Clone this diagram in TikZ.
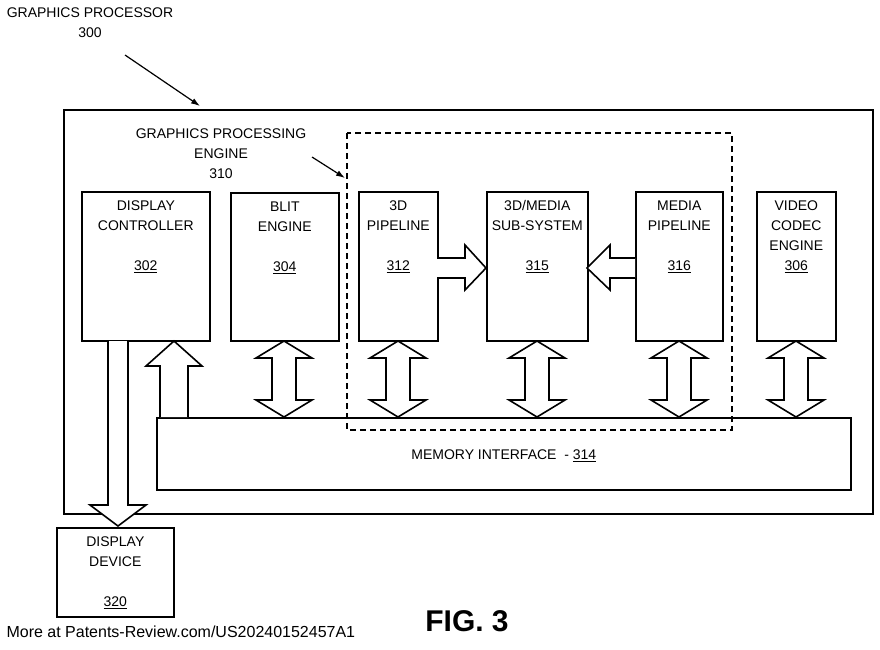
\documentclass[tikz,border=0pt]{standalone}
\usepackage{fontspec}
\setmainfont{Liberation Sans}
\usetikzlibrary{positioning,arrows.meta}

\tikzset{
    box/.style={draw,line width=1.6pt,fill=white,inner sep=0pt},
    lbl/.style={align=center,font=\fontsize{14}{20}\selectfont},
    blk/.style={draw,line width=1.6pt,fill=white,line join=miter},
}
% vertical double arrow: x, half shaft, half head, top, bottom, head length
\newcommand{\vdbl}[6]{%
    \draw[blk] (#1,#4) -- (#1+#3,#4+#6) -- (#1+#2,#4+#6) -- (#1+#2,#5-#6)
        -- (#1+#3,#5-#6) -- (#1,#5) -- (#1-#3,#5-#6) -- (#1-#2,#5-#6)
        -- (#1-#2,#4+#6) -- (#1-#3,#4+#6) -- cycle;}

\begin{document}
\begin{tikzpicture}[x=1pt,y=-1pt]
    \useasboundingbox (0,0) rectangle (880,649);

    \node[box,minimum width=809,minimum height=404,anchor=north west] (GP) at (63,109) {};

    \node[box,minimum width=128,minimum height=149,anchor=north west] (DC) at (81,191) {};
    \node[box,minimum width=108,minimum height=148,anchor=north west] (BE) at (230,192) {};
    \node[box,minimum width=79,minimum height=149,anchor=north west] (P3D) at (358,191) {};
    \node[box,minimum width=101,minimum height=149,anchor=north west] (SUB) at (486,191) {};
    \node[box,minimum width=87,minimum height=149,anchor=north west] (MP) at (635,191) {};
    \node[box,minimum width=79,minimum height=149,anchor=north west] (VC) at (756,191) {};
    \node[box,minimum width=694,minimum height=72,anchor=north west] (MI) at (156,417) {};
    \node[box,minimum width=117,minimum height=89,anchor=north west] (DD) at (56,527) {};
    \draw[line width=1.4pt,dash pattern=on 6pt off 4pt] (347,133) rectangle (732,430);

    \node[lbl,anchor=north] at ([yshift=-6]DC.north) {DISPLAY\\CONTROLLER\\[20pt]\underline{302}};
    \node[lbl,anchor=north] at ([yshift=-6]BE.north) {BLIT\\ENGINE\\[20pt]\underline{304}};
    \node[lbl,anchor=north] at ([yshift=-6]P3D.north) {3D\\PIPELINE\\[20pt]\underline{312}};
    \node[lbl,anchor=north] at ([yshift=-6]SUB.north) {3D/MEDIA\\SUB-SYSTEM\\[20pt]\underline{315}};
    \node[lbl,anchor=north] at ([yshift=-6]MP.north) {MEDIA\\PIPELINE\\[20pt]\underline{316}};
    \node[lbl,anchor=north] at ([yshift=-6]VC.north) {VIDEO\\CODEC\\ENGINE\\\underline{306}};
    \node[lbl] at ([yshift=-2]MI.center) {MEMORY INTERFACE\ \ - \underline{314}};
    \node[lbl,anchor=north] at ([yshift=-6]DD.north) {DISPLAY\\DEVICE\\[20pt]\underline{320}};

    \node[lbl,anchor=north] (GPL) at (90,4) {GRAPHICS PROCESSOR\\300};
    \coordinate (GPT) at (200,106);
    \draw[line width=1.2pt,-{Latex[length=9pt,width=6pt]}] (125,55) -- (GPT);
    \node[lbl,anchor=north] (GEL) at (221,125) {GRAPHICS PROCESSING\\ENGINE\\310};
    \coordinate (GET) at (345,178);
    \draw[line width=1.2pt,-{Latex[length=9pt,width=6pt]}] (312,157) -- (GET);

    % block arrows
    \draw[blk] (108,341) -- (108,505) -- (90,505) -- (118,526) -- (146,505)
        -- (128,505) -- (128,341);
    \draw[blk] (160,417) -- (160,366) -- (146,366) -- (174,341) -- (202,366)
        -- (188,366) -- (188,417);
    \vdbl{284}{12}{28}{341}{417}{17}
    \vdbl{398}{12}{28}{341}{417}{17}
    \vdbl{537}{12}{28}{341}{417}{17}
    \vdbl{679}{12}{28}{341}{417}{17}
    \vdbl{796}{12}{28}{341}{417}{17}
    \draw[blk] (437,258) -- (465,258) -- (465,245) -- (486,268) -- (465,290)
        -- (465,278) -- (437,278);
    \draw[blk] (635,258) -- (610,258) -- (610,245) -- (587,268) -- (610,290)
        -- (610,278) -- (635,278);

    \node[font=\fontsize{30}{30}\selectfont\bfseries] (FIG) at (467,621) {FIG. 3};
    \node[anchor=west,font=\fontsize{16}{16}\selectfont] (SRC) at (3,632) {More at Patents-Review.com/US20240152457A1};
\end{tikzpicture}
\end{document}
